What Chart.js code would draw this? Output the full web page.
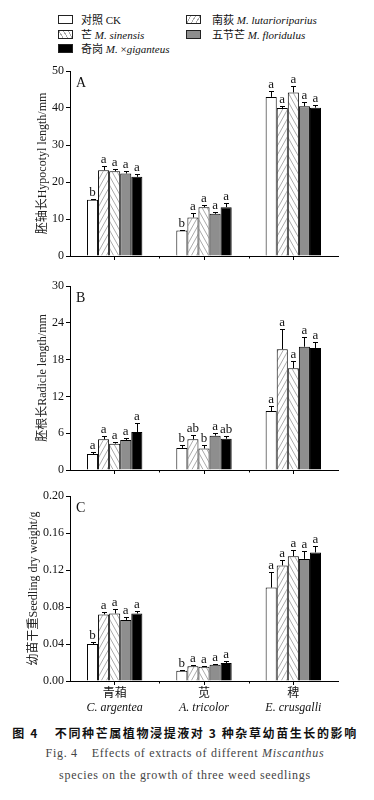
<!DOCTYPE html>
<html>
<head>
<meta charset="utf-8">
<script src="https://cdn.jsdelivr.net/npm/chart.js@4.4.1/dist/chart.umd.min.js"></script>
<style>
  body { margin: 0; width: 374px; height: 800px; position: relative; overflow: hidden; background: #fff;
         font-family: 'Liberation Serif', 'Noto Sans CJK SC', serif; color: #111; }
  .leg { position: absolute; font-size: 11px; line-height: 12px; white-space: nowrap; }
  .leg i { font-style: italic; }
  .sw { position: absolute; width: 13px; height: 7px; border: 1px solid #222; }
  canvas { position: absolute; left: 0; }
  .cap { position: absolute; left: 0; width: 370px; text-align: center; white-space: nowrap; }
</style>
</head>
<body>

<!-- legend -->
<div class="sw" style="left:58px;top:15px;background:#fff"></div>
<div class="leg" style="left:81px;top:14px">对照 CK</div>
<div class="sw" style="left:186px;top:15px;background:repeating-linear-gradient(-60deg,#fff 0 3px,#aaa 3px 4px)"></div>
<div class="leg" style="left:212px;top:14px">南荻 <i>M. lutarioriparius</i></div>
<div class="sw" style="left:58px;top:30px;background:repeating-linear-gradient(60deg,#fff 0 3px,#aaa 3px 4px)"></div>
<div class="leg" style="left:81px;top:29px">芒 <i>M. sinensis</i></div>
<div class="sw" style="left:186px;top:30px;background:#8e8e8e"></div>
<div class="leg" style="left:212px;top:29px">五节芒 <i>M. floridulus</i></div>
<div class="sw" style="left:58px;top:44px;background:#000"></div>
<div class="leg" style="left:81px;top:43px">奇岗 <i>M.</i> ×<i>giganteus</i></div>

<canvas id="chartA" width="374" height="210" style="top:60px"></canvas>
<canvas id="chartB" width="374" height="205" style="top:275px"></canvas>
<canvas id="chartC" width="374" height="235" style="top:485px"></canvas>

<div class="cap" style="top:724px;font-family:'Noto Sans CJK SC',sans-serif;font-weight:bold;font-size:12px;letter-spacing:1.6px">图 4<span style="display:inline-block;width:16px"></span>不同种芒属植物浸提液对 3 种杂草幼苗生长的影响</div>
<div class="cap" style="top:746px;font-size:12px;letter-spacing:0.7px;color:#444">Fig. 4<span style="display:inline-block;width:14px"></span>Effects of extracts of different <i>Miscanthus</i></div>
<div class="cap" style="top:768px;font-size:12px;letter-spacing:0.7px;color:#444">species on the growth of three weed seedlings</div>

<script>
// categories (weeds) and treatments
const categories = ['青葙', '苋', '稗'];
const latinNames = ['C. argentea', 'A. tricolor', 'E. crusgalli'];
const treatments = ['对照 CK', '南荻 M. lutarioriparius', '芒 M. sinensis', '五节芒 M. floridulus', '奇岗 M. ×giganteus'];

// A: hypocotyl length (mm), one row per treatment, one column per weed
const hypocotylMean = [
    [15.2, 6.9, 43.0],
    [23.2, 10.4, 40.0],
    [22.9, 13.2, 44.2],
    [22.3, 11.4, 40.5],
    [21.4, 13.2, 40.1]
];
const hypocotylErr = [
    [0.3, 0.2, 1.7],
    [1.1, 1.3, 0.5],
    [0.5, 0.5, 1.7],
    [0.6, 0.4, 1.1],
    [0.7, 1.0, 0.6]
];
const hypocotylLetters = [
    ['b', 'b', 'a'],
    ['a', 'a', 'a'],
    ['a', 'a', 'a'],
    ['a', 'a', 'a'],
    ['a', 'a', 'a']
];

// B: radicle length (mm)
const radicleMean = [
    [2.6, 3.6, 9.6],
    [5.0, 5.0, 19.7],
    [4.3, 3.5, 16.6],
    [4.9, 5.6, 20.1],
    [6.2, 5.1, 19.9]
];
const radicleErr = [
    [0.3, 0.4, 0.8],
    [0.6, 0.7, 3.3],
    [0.3, 0.5, 1.2],
    [0.3, 0.5, 1.6],
    [1.5, 0.4, 0.9]
];
const radicleLetters = [
    ['a', 'b', 'a'],
    ['a', 'ab', 'a'],
    ['a', 'b', 'a'],
    ['a', 'a', 'a'],
    ['a', 'ab', 'a']
];

// C: seedling dry weight (g)
const dryWeightMean = [
    [0.040, 0.011, 0.101],
    [0.072, 0.016, 0.125],
    [0.073, 0.0155, 0.135],
    [0.066, 0.0177, 0.132],
    [0.073, 0.0195, 0.139]
];
const dryWeightErr = [
    [0.002, 0.001, 0.017],
    [0.003, 0.001, 0.006],
    [0.005, 0.001, 0.007],
    [0.003, 0.001, 0.008],
    [0.003, 0.002, 0.007]
];
const dryWeightLetters = [
    ['b', 'b', 'a'],
    ['a', 'a', 'a'],
    ['a', 'a', 'a'],
    ['a', 'a', 'a'],
    ['a', 'a', 'a']
];

const SERIF = "'Liberation Serif', 'Noto Sans CJK SC', serif";

// hachures pour les barres (traits obliques assez raides)
function hatch(dir) {
    const w = 5, h = 9;
    const c = document.createElement('canvas');
    c.width = w; c.height = h;
    const g = c.getContext('2d');
    g.fillStyle = '#fff';
    g.fillRect(0, 0, w, h);
    g.strokeStyle = '#aaaaaa';
    g.lineWidth = 1;
    g.beginPath();
    for (let k = -1; k <= 1; k++) {
        if (dir > 0) {
            g.moveTo(k * w, h); g.lineTo(k * w + w, 0);
        } else {
            g.moveTo(k * w, 0); g.lineTo(k * w + w, h);
        }
    }
    g.stroke();
    return g.createPattern(c, 'repeat');
}

const fills = ['#ffffff', hatch(1), hatch(-1), '#8e8e8e', '#000000'];

// error bars + significance letters
const errorBarPlugin = {
    id: 'errorBars',
    afterDatasetsDraw(chart) {
        const ctx = chart.ctx;
        const y = chart.scales.y;
        ctx.save();
        ctx.strokeStyle = '#000';
        ctx.lineWidth = 1;
        ctx.fillStyle = '#111';
        ctx.font = '13px ' + SERIF;
        ctx.textAlign = 'center';
        ctx.textBaseline = 'bottom';
        chart.data.datasets.forEach((ds, di) => {
            chart.getDatasetMeta(di).data.forEach((bar, i) => {
                const top = Math.round(y.getPixelForValue(ds.data[i] + ds.errors[i])) + 0.5;
                const x = Math.round(bar.x) + 0.5;
                ctx.beginPath();
                ctx.moveTo(x, bar.y);
                ctx.lineTo(x, top);
                ctx.moveTo(x - 2.5, top);
                ctx.lineTo(x + 2.5, top);
                ctx.stroke();
                ctx.fillText(ds.letters[i], bar.x, top);
            });
        });
        ctx.restore();
    }
};

// panel letter, minor ticks between groups, latin names
const framePlugin = {
    id: 'frame',
    afterDraw(chart, args, opts) {
        const { ctx, chartArea, scales: { x } } = chart;
        ctx.save();
        ctx.fillStyle = '#111';
        ctx.font = '14px ' + SERIF;
        ctx.textAlign = 'left';
        ctx.textBaseline = 'middle';
        ctx.fillText(opts.label, chartArea.left + 6, chartArea.top + 12);

        ctx.strokeStyle = '#000';
        ctx.lineWidth = 1;
        ctx.beginPath();
        for (let i = 0; i < categories.length - 1; i++) {
            const px = Math.round((x.getPixelForValue(i) + x.getPixelForValue(i + 1)) / 2) + 0.5;
            ctx.moveTo(px, chartArea.bottom);
            ctx.lineTo(px, chartArea.bottom + 2.5);
        }
        ctx.stroke();

        if (opts.latin) {
            ctx.font = 'italic 12px ' + SERIF;
            ctx.textAlign = 'center';
            latinNames.forEach((name, i) => {
                ctx.fillText(name, x.getPixelForValue(i), chartArea.bottom + 27);
            });
        }
        ctx.restore();
    }
};

function makePanel(id, means, errs, letters, cfg) {
    const datasets = treatments.map((t, k) => ({
        label: t,
        data: means[k],
        errors: errs[k],
        letters: letters[k],
        backgroundColor: fills[k],
        borderColor: '#000',
        borderWidth: 1,
        barPercentage: 1,
        categoryPercentage: 0.62
    }));
    return new Chart(document.getElementById(id), {
        type: 'bar',
        data: { labels: categories, datasets: datasets },
        options: {
            responsive: false,
            devicePixelRatio: 1,
            animation: false,
            layout: { autoPadding: false, padding: { left: 0, right: 36, top: 11, bottom: 0 } },
            plugins: {
                legend: { display: false },
                tooltip: { enabled: false },
                frame: { label: cfg.label, latin: cfg.showLabels }
            },
            scales: {
                x: {
                    ticks: { display: cfg.showLabels, color: '#111', font: { family: SERIF, size: 12 }, padding: 2, maxRotation: 0 },
                    grid: { display: true, drawOnChartArea: false, drawTicks: true, tickLength: 4, offset: false, color: '#000' },
                    border: { display: true, color: '#000', width: 1 },
                    afterFit(s) { s.height = cfg.xHeight; }
                },
                y: {
                    min: 0,
                    max: cfg.max,
                    ticks: {
                        stepSize: cfg.step,
                        color: '#111',
                        font: { family: SERIF, size: 12 },
                        padding: 2,
                        callback: cfg.fmt
                    },
                    grid: { display: true, drawOnChartArea: false, drawTicks: true, tickLength: 4, color: '#000' },
                    border: { display: true, color: '#000', width: 1 },
                    title: {
                        display: true,
                        text: cfg.title,
                        color: '#222',
                        font: { family: SERIF, size: 12 },
                        padding: { top: cfg.titlePad, bottom: 0 }
                    },
                    afterFit(s) { s.width = 70; }
                }
            }
        },
        plugins: [errorBarPlugin, framePlugin]
    });
}

makePanel('chartA', hypocotylMean, hypocotylErr, hypocotylLetters, {
    label: 'A', max: 50, step: 10, title: '胚轴长Hypocotyl length/mm', titlePad: 36,
    xHeight: 14, showLabels: false, fmt: v => v
});
makePanel('chartB', radicleMean, radicleErr, radicleLetters, {
    label: 'B', max: 30, step: 6, title: '胚根长Radicle length/mm', titlePad: 36,
    xHeight: 10, showLabels: false, fmt: v => v
});
makePanel('chartC', dryWeightMean, dryWeightErr, dryWeightLetters, {
    label: 'C', max: 0.2, step: 0.04, title: '幼苗干重Seedling dry weight/g', titlePad: 27,
    xHeight: 39, showLabels: true, fmt: v => v.toFixed(2)
});
</script>
</body>
</html>
